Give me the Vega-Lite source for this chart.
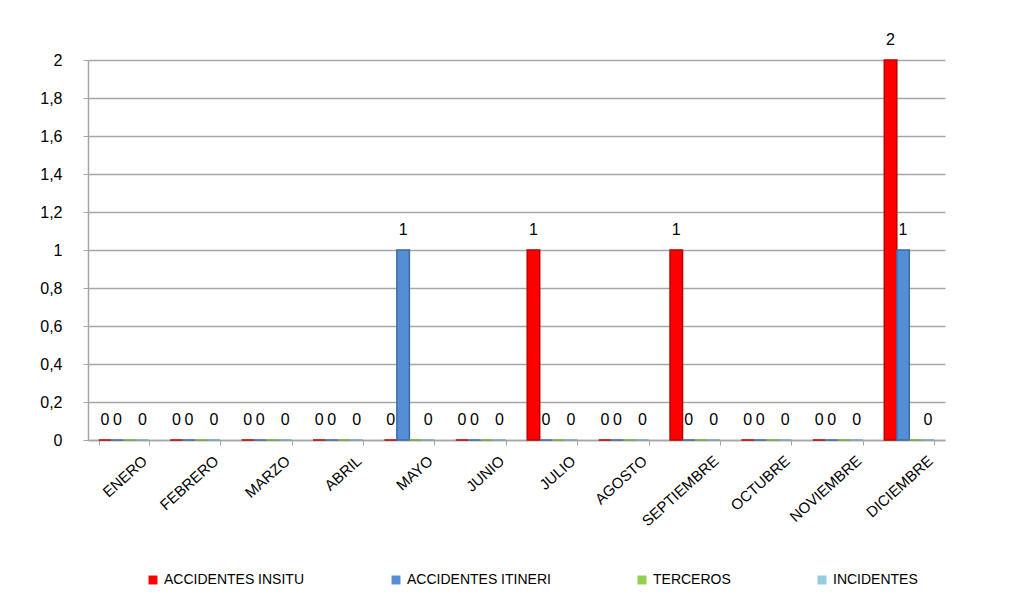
{
  "$schema": "https://vega.github.io/schema/vega-lite/v6.json",
  "width": 857,
  "height": 380,
  "autosize": "none",
  "padding": {"left": 88, "top": 60, "right": 90, "bottom": 174},
  "background": "white",
  "config": {
    "font": "Liberation Sans",
    "view": {"stroke": null},
    "axis": {"labelFont": "Liberation Sans", "labelColor": "#000000"}
  },
  "data": {
    "values": [
      {"mes": "ENERO", "serie": "ACCIDENTES INSITU", "valor": 0},
      {"mes": "ENERO", "serie": "ACCIDENTES ITINERI", "valor": 0},
      {"mes": "ENERO", "serie": "TERCEROS", "valor": 0},
      {"mes": "ENERO", "serie": "INCIDENTES", "valor": 0},
      {"mes": "FEBRERO", "serie": "ACCIDENTES INSITU", "valor": 0},
      {"mes": "FEBRERO", "serie": "ACCIDENTES ITINERI", "valor": 0},
      {"mes": "FEBRERO", "serie": "TERCEROS", "valor": 0},
      {"mes": "FEBRERO", "serie": "INCIDENTES", "valor": 0},
      {"mes": "MARZO", "serie": "ACCIDENTES INSITU", "valor": 0},
      {"mes": "MARZO", "serie": "ACCIDENTES ITINERI", "valor": 0},
      {"mes": "MARZO", "serie": "TERCEROS", "valor": 0},
      {"mes": "MARZO", "serie": "INCIDENTES", "valor": 0},
      {"mes": "ABRIL", "serie": "ACCIDENTES INSITU", "valor": 0},
      {"mes": "ABRIL", "serie": "ACCIDENTES ITINERI", "valor": 0},
      {"mes": "ABRIL", "serie": "TERCEROS", "valor": 0},
      {"mes": "ABRIL", "serie": "INCIDENTES", "valor": 0},
      {"mes": "MAYO", "serie": "ACCIDENTES INSITU", "valor": 0},
      {"mes": "MAYO", "serie": "ACCIDENTES ITINERI", "valor": 1},
      {"mes": "MAYO", "serie": "TERCEROS", "valor": 0},
      {"mes": "MAYO", "serie": "INCIDENTES", "valor": 0},
      {"mes": "JUNIO", "serie": "ACCIDENTES INSITU", "valor": 0},
      {"mes": "JUNIO", "serie": "ACCIDENTES ITINERI", "valor": 0},
      {"mes": "JUNIO", "serie": "TERCEROS", "valor": 0},
      {"mes": "JUNIO", "serie": "INCIDENTES", "valor": 0},
      {"mes": "JULIO", "serie": "ACCIDENTES INSITU", "valor": 1},
      {"mes": "JULIO", "serie": "ACCIDENTES ITINERI", "valor": 0},
      {"mes": "JULIO", "serie": "TERCEROS", "valor": 0},
      {"mes": "JULIO", "serie": "INCIDENTES", "valor": 0},
      {"mes": "AGOSTO", "serie": "ACCIDENTES INSITU", "valor": 0},
      {"mes": "AGOSTO", "serie": "ACCIDENTES ITINERI", "valor": 0},
      {"mes": "AGOSTO", "serie": "TERCEROS", "valor": 0},
      {"mes": "AGOSTO", "serie": "INCIDENTES", "valor": 0},
      {"mes": "SEPTIEMBRE", "serie": "ACCIDENTES INSITU", "valor": 1},
      {"mes": "SEPTIEMBRE", "serie": "ACCIDENTES ITINERI", "valor": 0},
      {"mes": "SEPTIEMBRE", "serie": "TERCEROS", "valor": 0},
      {"mes": "SEPTIEMBRE", "serie": "INCIDENTES", "valor": 0},
      {"mes": "OCTUBRE", "serie": "ACCIDENTES INSITU", "valor": 0},
      {"mes": "OCTUBRE", "serie": "ACCIDENTES ITINERI", "valor": 0},
      {"mes": "OCTUBRE", "serie": "TERCEROS", "valor": 0},
      {"mes": "OCTUBRE", "serie": "INCIDENTES", "valor": 0},
      {"mes": "NOVIEMBRE", "serie": "ACCIDENTES INSITU", "valor": 0},
      {"mes": "NOVIEMBRE", "serie": "ACCIDENTES ITINERI", "valor": 0},
      {"mes": "NOVIEMBRE", "serie": "TERCEROS", "valor": 0},
      {"mes": "NOVIEMBRE", "serie": "INCIDENTES", "valor": 0},
      {"mes": "DICIEMBRE", "serie": "ACCIDENTES INSITU", "valor": 2},
      {"mes": "DICIEMBRE", "serie": "ACCIDENTES ITINERI", "valor": 1},
      {"mes": "DICIEMBRE", "serie": "TERCEROS", "valor": 0},
      {"mes": "DICIEMBRE", "serie": "INCIDENTES", "valor": 0}
    ]
  },
  "encoding": {
    "x": {
      "field": "mes",
      "type": "nominal",
      "sort": null,
      "title": null,
      "scale": {"paddingInner": 0.3, "paddingOuter": 0.15},
      "axis": {
        "labelAngle": -42,
        "labelFontSize": 15,
        "labelAlign": "right",
        "labelBaseline": "top",
        "labelPadding": 8,
        "labelOffset": 16,
        "domainColor": "#a6a6a6",
        "domainWidth": 1.5,
        "tickColor": "#a6a6a6",
        "tickBand": "extent",
        "tickSize": 5
      }
    },
    "xOffset": {
      "field": "serie",
      "type": "nominal",
      "sort": ["ACCIDENTES INSITU", "ACCIDENTES ITINERI", "TERCEROS", "INCIDENTES"]
    },
    "y": {
      "field": "valor",
      "type": "quantitative",
      "title": null,
      "scale": {"domain": [0, 2], "nice": false},
      "axis": {
        "values": [0, 0.2, 0.4, 0.6, 0.8, 1, 1.2, 1.4, 1.6, 1.8, 2],
        "labelExpr": "replace(format(datum.value, '.1~f'), '.', ',')",
        "labelFontSize": 16,
        "labelPadding": 21,
        "grid": true,
        "gridColor": "#a6a6a6",
        "gridWidth": 1.5,
        "domainColor": "#a6a6a6",
        "domainWidth": 1.5,
        "tickColor": "#a6a6a6",
        "tickSize": 5
      }
    }
  },
  "layer": [
    {
      "mark": {"type": "bar", "strokeWidth": 1.5},
      "encoding": {
        "color": {
          "field": "serie",
          "type": "nominal",
          "sort": ["ACCIDENTES INSITU", "ACCIDENTES ITINERI", "TERCEROS", "INCIDENTES"],
          "scale": {
            "domain": ["ACCIDENTES INSITU", "ACCIDENTES ITINERI", "TERCEROS", "INCIDENTES"],
            "range": ["#ff0000", "#558ed5", "#92d050", "#93cddd"]
          },
          "legend": {
            "title": null,
            "orient": "none",
            "direction": "horizontal",
            "columns": 4,
            "columnPadding": 84,
            "legendX": 58,
            "legendY": 513,
            "symbolType": "square",
            "symbolSize": 80,
            "symbolStrokeWidth": 0,
            "labelFontSize": 14,
            "labelFont": "Liberation Sans",
            "labelColor": "#000000",
            "labelOffset": 4,
            "labelLimit": 300
          }
        },
        "stroke": {
          "field": "serie",
          "type": "nominal",
          "scale": {
            "domain": ["ACCIDENTES INSITU", "ACCIDENTES ITINERI", "TERCEROS", "INCIDENTES"],
            "range": ["#c00000", "#3a6aa8", "#76a83c", "#72abbb"]
          },
          "legend": null
        }
      }
    },
    {
      "transform": [{"filter": "datum.serie != 'TERCEROS'"}],
      "mark": {"type": "text", "dy": -20, "fontSize": 16, "color": "#000000", "font": "Liberation Sans"},
      "encoding": {
        "text": {"field": "valor", "type": "quantitative"}
      }
    }
  ]
}
